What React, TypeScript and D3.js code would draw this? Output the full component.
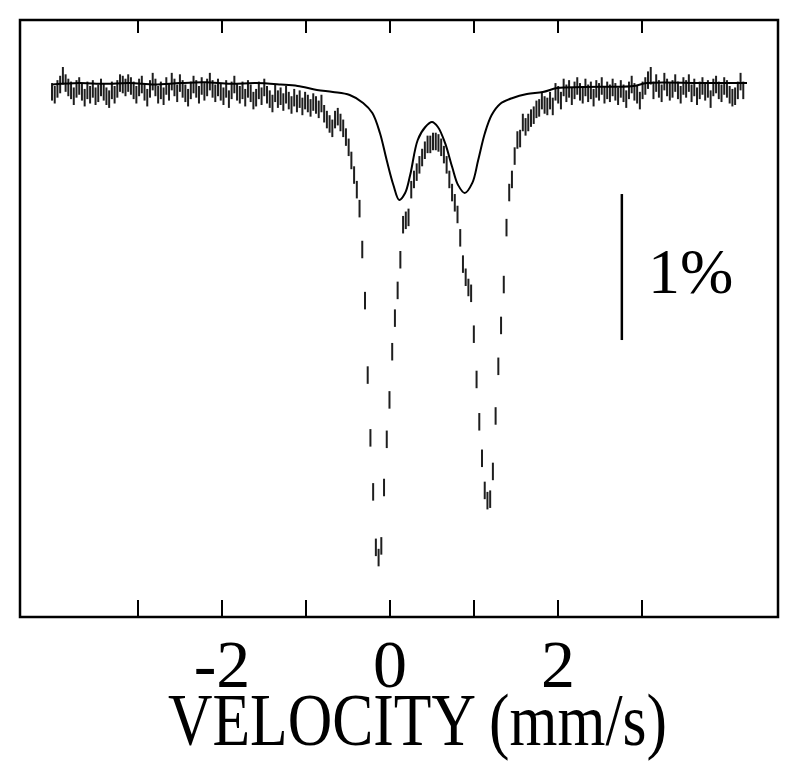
import React from "react";
import * as d3 from "d3";

// Channel calibration (velocity of channel 0 and step, mm/s)
const V_START = -4.024;
const V_STEP = 0.0324;
// statistical error (half length of the error bar), % absorption
const ERR = 0.06;

const absorption: number[] = [
  0.04, 0.06, 0.02, -0.01, -0.07, -0.02, 0.01, 0.03, 0.07, 0.02,
  0.0, 0.04, 0.08, 0.03, 0.06, 0.02, 0.07, 0.05, 0.01, 0.04,
  0.07, 0.09, 0.03, 0.06, 0.02, -0.02, -0.01, 0.01, -0.02, 0.0,
  0.03, 0.06, 0.01, -0.01, 0.04, 0.08, 0.02, -0.03, 0.01, 0.06,
  0.03, 0.07, 0.0, 0.04, -0.03, 0.01, 0.05, -0.02, 0.02, 0.05,
  0.08, 0.03, -0.01, 0.02, 0.06, 0.0, 0.04, 0.01, -0.03, 0.02,
  0.05, 0.01, 0.04, 0.07, 0.02, 0.09, 0.03, -0.01, 0.04, 0.06,
  0.03, 0.08, 0.02, 0.05, 0.1, 0.08, 0.03, 0.07, 0.01, 0.06,
  0.09, 0.12, 0.05, 0.09, 0.07, 0.11, 0.06, 0.1, 0.13, 0.08,
  0.12, 0.09, 0.14, 0.1, 0.12, 0.15, 0.11, 0.13, 0.16, 0.12,
  0.19, 0.23, 0.26, 0.29, 0.23, 0.21, 0.25, 0.29, 0.35, 0.42,
  0.51, 0.61, 0.71, 0.84, 1.12, 1.47, 1.98, 2.41, 2.78, 3.16,
  3.23, 3.15, 2.75, 2.42, 2.15, 1.82, 1.59, 1.4, 1.19, 0.95,
  0.92, 0.9, 0.71, 0.64, 0.59, 0.54, 0.49, 0.44, 0.4, 0.4,
  0.38, 0.38, 0.39, 0.42, 0.47, 0.54, 0.64, 0.73, 0.8, 0.88,
  1.04, 1.22, 1.31, 1.38, 1.42, 1.7, 2.01, 2.3, 2.55, 2.77,
  2.84, 2.83, 2.64, 2.26, 1.92, 1.64, 1.36, 0.97, 0.73, 0.64,
  0.48, 0.37, 0.36, 0.25, 0.28, 0.25, 0.22, 0.2, 0.16, 0.15,
  0.1, 0.13, 0.14, 0.1, 0.14, 0.04, 0.06, 0.1, 0.01,
  0.05, 0.02, 0.07, 0.03, 0.0, 0.04, 0.06, 0.01, 0.05, 0.03,
  0.08, 0.02, 0.04, 0.0, 0.06, 0.03, 0.05, 0.01, 0.04, 0.07,
  0.02, 0.05, 0.09, 0.03, -0.01, 0.04, 0.06, 0.1, 0.03, 0.0,
  -0.04, -0.07, 0.03, -0.02, 0.02, 0.05, -0.03, 0.01, 0.04, 0.02,
  -0.02, 0.03, 0.06, 0.0, 0.02, -0.02, 0.05, 0.01, 0.07, 0.03,
  0.0, 0.04, 0.02, 0.09, 0.01, -0.01, 0.03, 0.05, 0.0, 0.02,
  0.06, 0.08, 0.07, 0.03, -0.03, 0.03,
];

// Fitted curve (velocity mm/s, absorption %)
const fitVelocity: number[] = [
  -4.02, -3.7, -3.4, -3.1, -2.8, -2.5, -2.2, -1.9, -1.6, -1.3, -1.1, -0.87,
  -0.68, -0.48, -0.32, -0.21, -0.12, -0.04, 0.04, 0.11, 0.18, 0.24, 0.33,
  0.42, 0.5, 0.57, 0.655, 0.74, 0.81, 0.89, 0.98, 1.05, 1.13, 1.21, 1.31,
  1.46, 1.63, 1.82, 1.99, 2.3, 2.9, 3.06, 3.7, 4.25,
];
const fitAbsorption: number[] = [
  -0.01, -0.02, -0.015, -0.02, -0.01, -0.02, -0.025, -0.015, -0.02, -0.01,
  0.0, 0.027, 0.041, 0.062, 0.116, 0.185, 0.322, 0.507, 0.678, 0.781, 0.733,
  0.61, 0.37, 0.281, 0.247, 0.281, 0.39, 0.555, 0.678, 0.733, 0.664, 0.507,
  0.322, 0.199, 0.123, 0.082, 0.055, 0.041, 0.014, 0.007, 0.0, -0.02, -0.02,
  -0.02,
];

const xTicks = [-3, -2, -1, 0, 1, 2, 3];
const xTickLabels = [-2, 0, 2];
const SCALE_BAR_START = 0.74; // absorption (%) at top of the 1% bar
const SCALE_BAR_VELOCITY = 2.76;

const FONT = "'Liberation Serif', 'Times New Roman', Times, serif";

export default function App() {
  const W = 800;
  const H = 772;
  const left = 20, right = 778, top = 20, bottom = 617;
  const x = d3.scaleLinear().domain([-4.405, 4.619]).range([left, right]);
  const y = d3.scaleLinear().domain([-0.452, 3.637]).range([top, bottom]);

  const fitPts: [number, number][] = fitVelocity.map((v, i) => [v, fitAbsorption[i]]);
  const line = d3
    .line<[number, number]>()
    .x((d) => x(d[0]))
    .y((d) => y(d[1]))
    .curve(d3.curveCatmullRom.alpha(0.5));

  return (
    <svg
      width={W}
      height={H}
      viewBox={`0 0 ${W} ${H}`}
      style={{ position: "absolute", left: 0, top: 0, background: "#fff" }}
    >
      <rect x={0} y={0} width={W} height={H} fill="#fff" />
      {/* data error bars */}
      <g stroke="#1e1e1e" strokeWidth={2}>
        {absorption.map((a, i) => {
          const v = V_START + i * V_STEP;
          return (
            <line
              key={i}
              x1={x(v)}
              x2={x(v)}
              y1={y(a - ERR)}
              y2={y(a + ERR)}
            />
          );
        })}
      </g>
      {/* fit */}
      <path d={line(fitPts) || ""} fill="none" stroke="#000" strokeWidth={2} />
      {/* frame */}
      <rect
        x={left}
        y={top}
        width={right - left}
        height={bottom - top}
        fill="none"
        stroke="#000"
        strokeWidth={2.5}
      />
      {/* ticks */}
      <g stroke="#000" strokeWidth={2}>
        {xTicks.map((t) => (
          <g key={t}>
            <line x1={x(t)} x2={x(t)} y1={top} y2={top + 13} />
            <line x1={x(t)} x2={x(t)} y1={bottom} y2={bottom - 17} />
          </g>
        ))}
      </g>
      <g fontFamily={FONT} fill="#000">
        {xTickLabels.map((t) => (
          <text key={t} x={x(t)} y={687} fontSize={68} textAnchor="middle">
            {t < 0 ? "-" + Math.abs(t) : String(t)}
          </text>
        ))}
        <text
          x={168}
          y={745}
          fontSize={75}
          textLength={499}
          lengthAdjust="spacingAndGlyphs"
        >
          VELOCITY (mm/s)
        </text>
        <text x={648} y={293} fontSize={64}>
          1%
        </text>
      </g>
      {/* 1% scale bar */}
      <line
        x1={x(SCALE_BAR_VELOCITY)}
        x2={x(SCALE_BAR_VELOCITY)}
        y1={y(SCALE_BAR_START)}
        y2={y(SCALE_BAR_START + 1)}
        stroke="#000"
        strokeWidth={2.5}
      />
    </svg>
  );
}
